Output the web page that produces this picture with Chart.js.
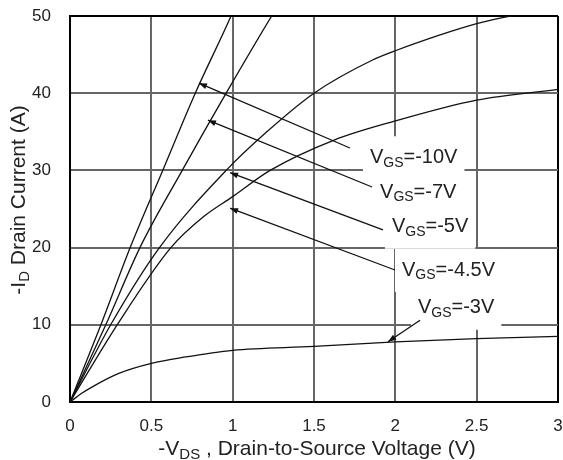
<!DOCTYPE html>
<html>
<head>
<meta charset="utf-8">
<script src="https://cdn.jsdelivr.net/npm/chart.js@4.4.1/dist/chart.umd.min.js"></script>
<style>
  body { margin: 0; background: #fff; }
  #chart { display: block; }
</style>
</head>
<body>
<canvas id="chart" width="563" height="460"></canvas>
<script>
// -VDS (V) / -ID (A)
const vds10 = [0, 0.19, 0.37, 0.57, 0.77, 0.99, 1.01];
const id10 = [0, 10, 20, 30, 40, 50, 51];
const vds7 = [0, 0.22, 0.43, 0.69, 0.96, 1.24, 1.27];
const id7 = [0, 10, 20, 30, 40, 50, 51];
const vds5 = [0, 0.25, 0.55, 0.96, 1.21, 1.5, 1.86, 2.0, 2.5, 2.75];
const id5 = [0, 10, 20, 30, 35, 40, 44.3, 45.5, 49.0, 50.2];
const vds45 = [0, 0.29, 0.62, 0.82, 1.0, 1.23, 1.62, 2.0, 2.5, 3.0];
const id45 = [0, 10, 20, 24, 26.6, 30, 33.9, 36.4, 39.1, 40.5];
const vds3 = [0, 0.07, 0.14, 0.3, 0.5, 0.7, 1.0, 1.5, 2.0, 2.5, 3.0];
const id3 = [0, 1.1, 2.0, 3.7, 5.0, 5.8, 6.7, 7.2, 7.8, 8.2, 8.5];

const gateLabels = ['-10V', '-7V', '-5V', '-4.5V', '-3V'];

// label anchor (text left / middle), arrow tail and arrow tip, in data units
const notes = [
  { tx: 1.844, ty: 31.7, ax: 1.721, ay: 32.9, px: 0.793, py: 41.3 },
  { tx: 1.906, ty: 27.2, ax: 1.857, ay: 27.85, px: 0.848, py: 36.5 },
  { tx: 1.979, ty: 22.7, ax: 1.924, ay: 22.3, px: 0.984, py: 29.7 },
  { tx: 2.041, ty: 17.1, ax: 1.998, ay: 17.1, px: 0.984, py: 25.1 },
  { tx: 2.139, ty: 12.2, ax: 2.152, ay: 10.6, px: 1.955, py: 7.8 }
];

const FONT = '"Liberation Sans", Arial, sans-serif';

function pts(xs, ys) {
  return xs.map((x, i) => ({ x: x, y: ys[i] }));
}

function curve(xs, ys) {
  return {
    data: pts(xs, ys),
    showLine: true,
    borderColor: '#111',
    borderWidth: 1.3,
    pointRadius: 0,
    cubicInterpolationMode: 'monotone',
    fill: false
  };
}

// draws text pieces, some as subscripts
function richWidth(ctx, parts, size) {
  let w = 0;
  parts.forEach(p => {
    ctx.font = (p.sub ? Math.round(size * 0.7) : size) + 'px ' + FONT;
    w += ctx.measureText(p.t).width;
  });
  return w;
}
function drawRich(ctx, parts, x, y, size) {
  parts.forEach(p => {
    let s = p.sub ? Math.round(size * 0.7) : size;
    ctx.font = s + 'px ' + FONT;
    ctx.fillText(p.t, x, p.sub ? y + size * 0.28 : y);
    x += ctx.measureText(p.t).width;
  });
}

function gsParts(v) {
  return [{ t: 'V' }, { t: 'GS', sub: true }, { t: '=' + v }];
}

const labelSize = 20;

const notesPlugin = {
  id: 'notes',
  beforeDatasetsDraw(chart) {
    const ctx = chart.ctx;
    const xs = chart.scales.x, ys = chart.scales.y;
    ctx.save();
    ctx.fillStyle = '#fff';
    notes.forEach((n, i) => {
      let x = xs.getPixelForValue(n.tx);
      let y = ys.getPixelForValue(n.ty);
      let w = richWidth(ctx, gsParts(gateLabels[i]), labelSize);
      ctx.fillRect(x - 7, y - 21, w + 14, 43);
    });
    ctx.restore();
  },
  afterDatasetsDraw(chart) {
    const ctx = chart.ctx;
    const xs = chart.scales.x, ys = chart.scales.y;
    ctx.save();
    notes.forEach((n, i) => {
      let x0 = xs.getPixelForValue(n.ax), y0 = ys.getPixelForValue(n.ay);
      let x1 = xs.getPixelForValue(n.px), y1 = ys.getPixelForValue(n.py);
      ctx.strokeStyle = '#111';
      ctx.lineWidth = 1.3;
      ctx.beginPath();
      ctx.moveTo(x0, y0);
      ctx.lineTo(x1, y1);
      ctx.stroke();
      let a = Math.atan2(y1 - y0, x1 - x0);
      ctx.fillStyle = '#111';
      ctx.beginPath();
      ctx.moveTo(x1, y1);
      ctx.lineTo(x1 - 8 * Math.cos(a) + 3 * Math.sin(a), y1 - 8 * Math.sin(a) - 3 * Math.cos(a));
      ctx.lineTo(x1 - 8 * Math.cos(a) - 3 * Math.sin(a), y1 - 8 * Math.sin(a) + 3 * Math.cos(a));
      ctx.closePath();
      ctx.fill();

      ctx.fillStyle = '#222';
      ctx.textBaseline = 'middle';
      ctx.textAlign = 'left';
      drawRich(ctx, gsParts(gateLabels[i]), xs.getPixelForValue(n.tx), ys.getPixelForValue(n.ty), labelSize);
    });

    // axis titles
    const area = chart.chartArea;
    ctx.fillStyle = '#222';
    ctx.textBaseline = 'middle';
    let xt = [{ t: '-V' }, { t: 'DS', sub: true }, { t: ' , Drain-to-Source Voltage (V)' }];
    let w = richWidth(ctx, xt, 21);
    drawRich(ctx, xt, (area.left + area.right) / 2 - w / 2 + 3, 449, 21);

    let yt = [{ t: '-I' }, { t: 'D', sub: true }, { t: ' Drain Current (A)' }];
    w = richWidth(ctx, yt, 21);
    ctx.translate(19, 200);
    ctx.rotate(-Math.PI / 2);
    drawRich(ctx, yt, -w / 2, 0, 21);
    ctx.restore();
  }
};

const edge = (max) => (c) => (c.tick && c.tick.value === max ? '#000' : '#666');

new Chart(document.getElementById('chart'), {
  type: 'scatter',
  data: {
    datasets: [curve(vds10, id10), curve(vds7, id7), curve(vds5, id5), curve(vds45, id45), curve(vds3, id3)]
  },
  options: {
    responsive: false,
    animation: false,
    layout: { padding: { left: 0, top: 16, right: 5, bottom: 0 } },
    plugins: { legend: { display: false }, tooltip: { enabled: false } },
    scales: {
      x: {
        min: 0, max: 3,
        ticks: { stepSize: 0.5, padding: 0, color: '#222', font: { family: FONT, size: 17 }, callback: (v) => String(v) },
        grid: { color: edge(3), lineWidth: 2, drawTicks: true, tickLength: 14, tickColor: 'rgba(0,0,0,0)' },
        border: { color: '#000', width: 2 },
        afterFit: (s) => { s.height = 58; }
      },
      y: {
        min: 0, max: 50,
        ticks: { stepSize: 10, padding: 0, color: '#222', font: { family: FONT, size: 17 }, callback: (v) => String(v) },
        grid: { color: edge(50), lineWidth: 2, drawTicks: true, tickLength: 19, tickColor: 'rgba(0,0,0,0)' },
        border: { color: '#000', width: 2 },
        afterFit: (s) => { s.width = 70; }
      }
    }
  },
  plugins: [notesPlugin]
});
</script>
</body>
</html>
